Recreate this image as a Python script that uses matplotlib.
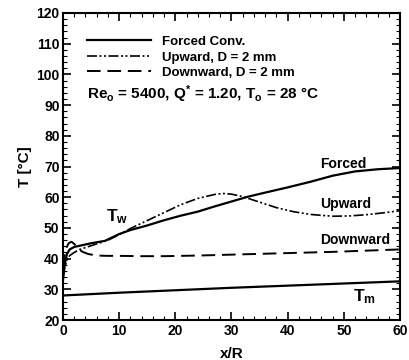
import matplotlib
matplotlib.use("Agg")
import matplotlib.pyplot as plt
from matplotlib.ticker import MultipleLocator

plt.rcParams['font.family'] = ['Liberation Sans', 'DejaVu Sans']
plt.rcParams['font.weight'] = 'bold'
plt.rcParams['mathtext.fontset'] = 'custom'
plt.rcParams['mathtext.rm'] = 'Liberation Sans:bold'
plt.rcParams['mathtext.bf'] = 'Liberation Sans:bold'
plt.rcParams['mathtext.default'] = 'bf'

# Data
x_forced = [0, 0.3, 0.7, 1.2, 2.0, 3.0, 5.0, 7.5, 10, 12, 15, 18, 21, 24, 27, 30, 33, 36, 40, 44, 48, 52, 56, 60]
t_forced = [33, 38, 41.5, 43, 43.8, 44.2, 45, 45.8, 48, 49.3, 50.8, 52.5, 54, 55.3, 57, 58.6, 60.2, 61.5, 63.2, 65, 67, 68.4, 69.1, 69.5]

x_up = [0, 0.3, 0.7, 1.2, 2.0, 3.0, 5.0, 8, 10, 12, 15, 18, 21, 24, 27, 28.5, 30, 32, 35, 38, 41, 44, 48, 51, 54, 57, 60]
t_up = [34, 37, 39.5, 41, 42, 43, 44.2, 46, 47.8, 49.8, 52.4, 55, 57.6, 59.6, 60.9, 61.2, 61, 60.2, 58.4, 56.6, 55.3, 54.4, 53.8, 53.9, 54.3, 54.9, 55.6]

x_down = [0, 0.3, 0.6, 1.0, 1.5, 2.0, 2.7, 3.5, 4.5, 6, 8, 10, 14, 18, 24, 30, 36, 42, 48, 54, 60]
t_down = [37, 41, 43.5, 45, 45.5, 44.8, 43.2, 42.2, 41.5, 41.0, 40.9, 40.9, 40.8, 40.8, 41.0, 41.3, 41.6, 41.9, 42.2, 42.6, 43.0]

x_m = [0, 10, 20, 30, 40, 50, 60]
t_m = [28, 28.9, 29.7, 30.5, 31.2, 31.9, 32.6]

fig = plt.figure(figsize=(4.09, 3.60), dpi=100)
ax = fig.add_axes([0.154, 0.111, 0.824, 0.853])

ax.plot(x_forced, t_forced, color='black', lw=1.6, label='Forced Conv.')
ax.plot(x_up, t_up, color='black', lw=1.2, linestyle=(0, (6, 1.5, 1.2, 1.5, 1.2, 1.5)), label='Upward, D = 2 mm')
ax.plot(x_down, t_down, color='black', lw=1.4, linestyle=(0, (7, 3.5)), label='Downward, D = 2 mm')
ax.plot(x_m, t_m, color='black', lw=1.6)

ax.set_xlim(0, 60)
ax.set_ylim(20, 120)
ax.xaxis.set_major_locator(MultipleLocator(10))
ax.xaxis.set_minor_locator(MultipleLocator(2))
ax.yaxis.set_major_locator(MultipleLocator(10))
ax.yaxis.set_minor_locator(MultipleLocator(2))
ax.tick_params(which='both', direction='in', top=True, right=True, labelsize=10, width=1.2, pad=2.5)
ax.tick_params(which='major', length=6)
ax.tick_params(which='minor', length=3, width=0.8)
for s in ax.spines.values():
    s.set_linewidth(1.5)
for lab in ax.get_xticklabels() + ax.get_yticklabels():
    lab.set_fontweight('bold')

ax.set_xlabel('x/R', fontsize=11, fontweight='bold', labelpad=7)
ax.set_ylabel('T [°C]', fontsize=11, fontweight='bold', labelpad=3)

leg = ax.legend(loc='upper left', bbox_to_anchor=(0.056, 0.943), frameon=False,
                prop={'size': 9.5, 'weight': 'bold'}, handlelength=4.85, handletextpad=0.8,
                labelspacing=0.25, borderaxespad=0)

ax.text(4.27, 93.6, r'Re$_\mathbf{o}$ = 5400, Q$^\mathbf{*}$ = 1.20, T$_\mathbf{o}$ = 28 °C',
        fontsize=11, fontweight='bold', va='center', ha='left')
ax.text(45.75, 69.4, 'Forced', fontsize=10, fontweight='bold', ha='left', va='baseline')
ax.text(45.75, 56.4, 'Upward', fontsize=10, fontweight='bold', ha='left', va='baseline')
ax.text(45.75, 44.75, 'Downward', fontsize=10, fontweight='bold', ha='left', va='baseline')
ax.text(51.7, 26.0, r'T$_\mathbf{m}$', fontsize=12.5, fontweight='bold', ha='left', va='baseline')
ax.text(7.6, 52.2, r'T$_\mathbf{w}$', fontsize=12.5, fontweight='bold', ha='left', va='baseline')

fig.savefig('out.png', dpi=100)
